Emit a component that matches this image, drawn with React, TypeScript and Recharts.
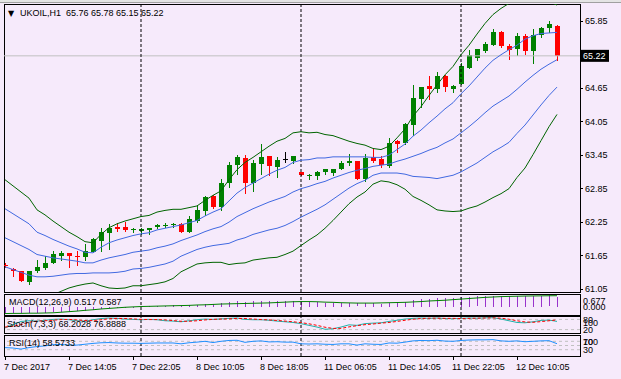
import React from 'react';
import { ComposedChart, Bar, Line, XAxis, YAxis, ReferenceLine } from 'recharts';

// UKOIL H1 candles
const opens = [
  61.48, 61.40, 61.37, 61.16, 61.37, 61.42, 61.50, 61.64, 61.69, 61.64,
  61.62, 61.71, 61.90, 62.04, 62.16, 62.16, 62.10, 62.08, 62.10, 62.15,
  62.18, 62.19, 62.21, 62.07, 62.26, 62.44, 62.71, 62.51, 62.94, 63.27,
  63.39, 62.95, 63.29, 63.43, 63.22, 63.37, 63.34, 63.13, 63.07, 63.07,
  63.14, 63.12, 63.19, 63.30, 63.34, 63.01, 63.41, 63.37, 63.25, 63.69,
  63.66, 63.98, 64.45, 64.68, 64.63, 64.86, 64.63, 64.72, 65.01, 65.19,
  65.30, 65.42, 65.65, 65.39, 65.34, 65.57, 65.31, 65.60, 65.72, 65.76,
];
const highs = [
  61.50, 61.41, 61.37, 61.37, 61.56, 61.64, 61.73, 61.73, 61.69, 61.73,
  61.85, 61.96, 62.14, 62.20, 62.23, 62.24, 62.14, 62.13, 62.14, 62.21,
  62.22, 62.22, 62.22, 62.35, 62.55, 62.71, 62.72, 63.02, 63.31, 63.45,
  63.45, 63.36, 63.64, 63.43, 63.41, 63.50, 63.43, 63.13, 63.10, 63.16,
  63.20, 63.20, 63.34, 63.46, 63.34, 63.46, 63.56, 63.43, 63.75, 63.72,
  64.02, 64.69, 64.67, 64.86, 64.93, 64.87, 64.69, 65.09, 65.33, 65.34,
  65.46, 65.70, 65.66, 65.44, 65.63, 65.62, 65.70, 65.74, 65.85, 65.78,
];
const lows = [
  61.43, 61.28, 61.18, 61.14, 61.35, 61.40, 61.50, 61.56, 61.44, 61.48,
  61.56, 61.71, 61.73, 61.76, 62.08, 62.08, 62.06, 62.03, 62.02, 62.13,
  62.15, 62.15, 62.07, 62.07, 62.25, 62.37, 62.50, 62.46, 62.87, 63.10,
  62.77, 62.80, 63.11, 63.08, 63.05, 63.32, 63.30, 63.08, 63.01, 63.02,
  63.10, 63.09, 63.19, 63.27, 63.01, 62.97, 63.31, 63.23, 63.23, 63.50,
  63.64, 63.81, 64.30, 64.45, 64.57, 64.59, 64.58, 64.72, 65.01, 65.14,
  65.29, 65.42, 65.38, 65.16, 65.24, 65.25, 65.09, 65.55, 65.64, 65.15,
];
const closes = [
  61.45, 61.36, 61.19, 61.37, 61.44, 61.51, 61.67, 61.69, 61.63, 61.61,
  61.73, 61.94, 62.07, 62.14, 62.12, 62.10, 62.11, 62.12, 62.14, 62.19,
  62.19, 62.20, 62.07, 62.30, 62.46, 62.69, 62.51, 62.94, 63.27, 63.41,
  62.95, 63.30, 63.41, 63.24, 63.36, 63.37, 63.43, 63.08, 63.08, 63.13,
  63.19, 63.20, 63.30, 63.34, 63.01, 63.39, 63.34, 63.27, 63.66, 63.64,
  64.00, 64.47, 64.66, 64.63, 64.86, 64.66, 64.68, 65.04, 65.24, 65.34,
  65.44, 65.64, 65.39, 65.32, 65.57, 65.31, 65.60, 65.72, 65.79, 65.22,
];

// Bollinger middle line and one deviation step (blue = ±1, green = ±2)
const bbMid = [
  61.96, 61.89, 61.82, 61.75, 61.66, 61.63, 61.60, 61.58, 61.56, 61.54,
  61.51, 61.51, 61.56, 61.60, 61.63, 61.66, 61.70, 61.72, 61.74, 61.78,
  61.81, 61.85, 61.91, 61.96, 62.01, 62.07, 62.12, 62.16, 62.24, 62.34,
  62.41, 62.48, 62.54, 62.60, 62.65, 62.70, 62.78, 62.84, 62.88, 62.93,
  62.97, 63.03, 63.08, 63.13, 63.17, 63.20, 63.24, 63.26, 63.28, 63.33,
  63.37, 63.42, 63.47, 63.53, 63.58, 63.66, 63.73, 63.84, 63.95, 64.07,
  64.20, 64.32, 64.41, 64.50, 64.62, 64.75, 64.87, 64.98, 65.07, 65.15,
];
const bbDev = [
  0.52, 0.50, 0.48, 0.46, 0.40, 0.37, 0.33, 0.29, 0.25, 0.22,
  0.19, 0.18, 0.23, 0.27, 0.29, 0.30, 0.30, 0.31, 0.31, 0.32,
  0.32, 0.31, 0.28, 0.27, 0.26, 0.28, 0.30, 0.32, 0.38, 0.42,
  0.45, 0.46, 0.48, 0.50, 0.52, 0.52, 0.53, 0.51, 0.48, 0.46,
  0.42, 0.38, 0.33, 0.28, 0.24, 0.21, 0.16, 0.14, 0.16, 0.21,
  0.27, 0.36, 0.42, 0.49, 0.56, 0.61, 0.65, 0.70, 0.73, 0.77,
  0.80, 0.82, 0.83, 0.83, 0.79, 0.77, 0.71, 0.64, 0.56, 0.49,
];

const macdMain = [
  -0.30, -0.31, -0.33, -0.34, -0.33, -0.31, -0.28, -0.26, -0.24, -0.22,
  -0.19, -0.15, -0.10, -0.06, -0.03, 0.00, 0.02, 0.03, 0.04, 0.06,
  0.07, 0.08, 0.07, 0.08, 0.10, 0.14, 0.15, 0.20, 0.26, 0.30,
  0.28, 0.30, 0.33, 0.32, 0.32, 0.32, 0.32, 0.29, 0.27, 0.25,
  0.23, 0.22, 0.22, 0.22, 0.18, 0.19, 0.19, 0.17, 0.22, 0.24,
  0.28, 0.35, 0.40, 0.43, 0.46, 0.47, 0.47, 0.50, 0.53, 0.55,
  0.57, 0.59, 0.59, 0.58, 0.58, 0.57, 0.58, 0.59, 0.60, 0.517,
];
const macdSignal = [
  -0.35, -0.34, -0.34, -0.33, -0.33, -0.32, -0.31, -0.28, -0.25, -0.22,
  -0.18, -0.15, -0.11, -0.08, -0.05, -0.02, 0.00, 0.02, 0.03, 0.04,
  0.05, 0.06, 0.07, 0.08, 0.10, 0.11, 0.13, 0.15, 0.16, 0.17,
  0.18, 0.19, 0.20, 0.21, 0.23, 0.25, 0.27, 0.28, 0.28, 0.27,
  0.25, 0.24, 0.22, 0.21, 0.20, 0.20, 0.20, 0.21, 0.22, 0.23,
  0.24, 0.26, 0.28, 0.31, 0.33, 0.35, 0.38, 0.41, 0.44, 0.47,
  0.50, 0.52, 0.54, 0.55, 0.56, 0.57, 0.575, 0.58, 0.585, 0.587,
];

const stochMain = [
  30, 50, 68, 72, 70, 75, 80, 82, 78, 72,
  70, 78, 85, 88, 86, 82, 80, 78, 80, 78,
  72, 70, 66, 72, 78, 82, 80, 83, 86, 88,
  80, 78, 78, 75, 70, 66, 62, 55, 45, 35,
  22, 25, 35, 48, 45, 55, 58, 60, 68, 75,
  82, 86, 88, 86, 88, 85, 84, 86, 88, 87,
  89, 90, 82, 72, 62, 60, 66, 74, 76, 68.2028,
];
const stochSignal = [
  35, 40, 49, 63, 70, 72, 75, 79, 80, 77,
  73, 73, 78, 84, 86, 85, 83, 80, 79, 79,
  77, 73, 69, 69, 72, 77, 80, 82, 83, 86,
  85, 82, 79, 77, 74, 70, 66, 61, 54, 45,
  34, 27, 27, 36, 43, 49, 53, 58, 62, 68,
  75, 81, 85, 87, 87, 86, 86, 85, 86, 87,
  88, 89, 87, 81, 72, 65, 63, 67, 72, 76.8888,
];

const rsiValues = [
  40, 38, 33, 40, 45, 48, 54, 55, 52, 52,
  56, 60, 63, 64, 62, 61, 61, 60, 61, 62,
  62, 62, 58, 63, 66, 70, 64, 70, 74, 75,
  65, 70, 72, 67, 68, 66, 66, 58, 57, 58,
  56, 55, 58, 58, 52, 58, 56, 55, 62, 61,
  66, 72, 74, 73, 75, 71, 70, 74, 76, 77,
  77, 78, 72, 70, 72, 68, 70, 72, 73, 58.5733,
];

const priceTicks = [61.05, 61.65, 62.25, 62.85, 63.45, 64.05, 64.65, 65.22, 65.85];
const lastPrice = 65.22;
const timeTicks = [0, 8, 16, 24, 32, 40, 48, 56, 64];
const timeLabels = [
  '7 Dec 2017', '7 Dec 14:05', '7 Dec 22:05', '8 Dec 10:05', '8 Dec 18:05',
  '11 Dec 06:05', '11 Dec 14:05', '11 Dec 22:05', '12 Dec 10:05',
];
const separators = [17, 37, 57];

const BG = '#F6EAFB';
const FONT = '"Liberation Sans", Arial, sans-serif';
const BULL = '#008000';
const BEAR = '#FF0000';
const BAND = '#006400';
const BLUE = '#4169E1';
const X_DOMAIN: [number, number] = [-0.125, 71.875];
const W = 621;

const data = opens.map((o, i) => ({
  i,
  o,
  h: highs[i],
  l: lows[i],
  c: closes[i],
  up2: bbMid[i] + 2 * bbDev[i],
  up1: bbMid[i] + bbDev[i],
  mid: bbMid[i],
  dn1: bbMid[i] - bbDev[i],
  dn2: bbMid[i] - 2 * bbDev[i],
  macd: macdMain[i],
  signal: macdSignal[i],
  k: stochMain[i],
  d: stochSignal[i],
  rsi: rsiValues[i],
}));

function Candle(props: any) {
  const { x, y, width, height, payload } = props;
  const top = Math.min(y, y + height);
  const h = Math.abs(height);
  const span = payload.h - payload.l;
  const py = (p: number) => (span > 0 ? top + ((payload.h - p) / span) * h : top);
  const cx = Math.round(x + width / 2);
  const color = payload.c > payload.o ? BULL : payload.c < payload.o ? BEAR : '#000';
  const wTop = Math.round(py(payload.h));
  const wBot = Math.round(py(payload.l));
  const bTop = Math.round(py(Math.max(payload.o, payload.c)));
  const bBot = Math.round(py(Math.min(payload.o, payload.c)));
  return (
    <g shapeRendering="crispEdges">
      <rect x={cx} y={wTop} width={1} height={Math.max(1, wBot - wTop + 1)} fill={color} />
      <rect x={cx - 2} y={bTop} width={5} height={Math.max(1, bBot - bTop)} fill={color} />
    </g>
  );
}

function HistBar(props: any) {
  const { x, y, width, height } = props;
  const top = Math.min(y, y + height);
  const h = Math.abs(height);
  return <rect x={Math.round(x + width / 2)} y={Math.round(top)} width={1} height={Math.max(1, Math.round(h))} fill="#9933CC" shapeRendering="crispEdges" />;
}

const tickText = { fontFamily: FONT, fontSize: 9, fill: '#000' };

function PriceTick(props: any) {
  const { y, payload } = props;
  const v = payload.value;
  if (v === lastPrice) {
    return (
      <g>
        <rect x={581} y={y - 6} width={28} height={12} fill="#000" />
        <text x={583} y={y + 3.5} {...tickText} fill="#fff">{v.toFixed(2)}</text>
      </g>
    );
  }
  return (
    <g>
      <line x1={580} x2={583} y1={Math.round(y) + 0.5} y2={Math.round(y) + 0.5} stroke="#000" />
      <text x={585} y={y + 3.5} {...tickText}>{v.toFixed(2)}</text>
    </g>
  );
}

// sub-window labels: the maximum sits just under the top border
function makePanelTick(topValue: number, fmt: (v: number) => string) {
  return (props: any) => {
    const { y, payload } = props;
    const v = payload.value;
    const dy = v === topValue ? 10 : 3.5;
    return (
      <text x={583} y={y + dy} {...tickText}>{fmt(v)}</text>
    );
  };
}

function TimeTick(props: any) {
  const { x, payload } = props;
  const label = timeLabels[timeTicks.indexOf(payload.value)];
  return (
    <g>
      <rect x={Math.round(x)} y={356} width={1} height={4} fill="#000" />
      <text x={x - 1} y={370} {...tickText}>{label}</text>
    </g>
  );
}

const sepLines = (prefix: string) =>
  separators.map((s) => (
    <ReferenceLine key={prefix + s} x={s} stroke="#000" strokeDasharray="3 2" ifOverflow="visible" />
  ));

const chartStyle: React.CSSProperties = { position: 'absolute', left: 0, top: 0 };

function Box({ top, height }: { top: number; height: number }) {
  return (
    <div
      style={{
        position: 'absolute', left: 4, top, width: 577, height,
        border: '1px solid #000', boxSizing: 'border-box', pointerEvents: 'none',
      }}
    />
  );
}

const label = (x: number, y: number, text: string) => (
  <div style={{ position: 'absolute', left: x, top: y, fontFamily: FONT, fontSize: 9, lineHeight: '11px', color: '#000', whiteSpace: 'pre' }}>
    {text}
  </div>
);

export default function App() {
  return (
    <div style={{ position: 'absolute', left: 0, top: 0, width: W, height: 379, background: BG, overflow: 'hidden' }}>
      <div style={{ position: 'absolute', left: 0, top: 0, width: W, height: 2, background: '#E4E4E4' }} />
      <div style={{ position: 'absolute', left: 0, top: 2, width: W, height: 1, background: '#A0A0A0' }} />
      <Box top={4} height={289} />
      <Box top={294} height={22} />
      <Box top={316} height={18} />
      <Box top={335} height={22} />

      {/* main window: candles + bands */}
      <div style={chartStyle}>
        <ComposedChart width={W} height={293} data={data} margin={{ top: 4, right: 0, bottom: 1, left: 4 }}>
          <XAxis dataKey="i" type="number" domain={X_DOMAIN} allowDataOverflow hide />
          <YAxis
            orientation="right" width={41} domain={[60.988, 66.149]} allowDataOverflow
            ticks={priceTicks} interval={0} axisLine={false} tickLine={false} tick={(p: any) => <PriceTick {...p} />}
          />
          <ReferenceLine y={lastPrice} stroke="#C0C0C0" />
          {sepLines('m')}
          <Line dataKey="up2" stroke={BAND} dot={false} strokeWidth={1} isAnimationActive={false} />
          <Line dataKey="up1" stroke={BLUE} dot={false} strokeWidth={1} isAnimationActive={false} />
          <Line dataKey="mid" stroke={BLUE} dot={false} strokeWidth={1} isAnimationActive={false} />
          <Line dataKey="dn1" stroke={BLUE} dot={false} strokeWidth={1} isAnimationActive={false} />
          <Line dataKey="dn2" stroke={BAND} dot={false} strokeWidth={1} isAnimationActive={false} />
          <Bar dataKey={(d: any) => [d.l, d.h]} barSize={5} shape={(p: any) => <Candle {...p} />} isAnimationActive={false} />
        </ComposedChart>
      </div>

      {/* MACD */}
      <div style={chartStyle}>
        <ComposedChart width={W} height={322} data={data} margin={{ top: 294, right: 0, bottom: 7, left: 4 }}>
          <XAxis dataKey="i" type="number" domain={X_DOMAIN} allowDataOverflow hide />
          <YAxis
            orientation="right" width={41} domain={[-0.425, 0.677]} allowDataOverflow
            ticks={[0.677, 0]} interval={0} axisLine={false} tickLine={false}
            tick={makePanelTick(0.677, (v) => v.toFixed(3))}
          />
          {sepLines('a')}
          <Bar dataKey="macd" barSize={1} shape={(p: any) => <HistBar {...p} />} isAnimationActive={false} />
          <Line dataKey="signal" stroke={BULL} dot={false} strokeWidth={1} isAnimationActive={false} />
        </ComposedChart>
      </div>

      {/* Stochastic */}
      <div style={chartStyle}>
        <ComposedChart width={W} height={340} data={data} margin={{ top: 316, right: 0, bottom: 7, left: 4 }}>
          <XAxis dataKey="i" type="number" domain={X_DOMAIN} allowDataOverflow hide />
          <YAxis
            orientation="right" width={41} domain={[0, 100]} allowDataOverflow
            ticks={[100, 80, 20]} interval={0} axisLine={false} tickLine={false}
            tick={makePanelTick(100, (v) => String(v))}
          />
          <ReferenceLine y={80} stroke="#C0C0C0" strokeDasharray="3 3" />
          <ReferenceLine y={20} stroke="#C0C0C0" strokeDasharray="3 3" />
          {sepLines('s')}
          <Line dataKey="k" stroke="#20B2AA" dot={false} strokeWidth={1} isAnimationActive={false} />
          <Line dataKey="d" stroke="#FF0000" strokeDasharray="3 2" dot={false} strokeWidth={1} isAnimationActive={false} />
        </ComposedChart>
      </div>

      {/* RSI + time axis */}
      <div style={chartStyle}>
        <ComposedChart width={W} height={379} data={data} margin={{ top: 335, right: 0, bottom: 0, left: 4 }}>
          <XAxis
            dataKey="i" type="number" domain={X_DOMAIN} allowDataOverflow height={23}
            ticks={timeTicks} interval={0} axisLine={false} tickLine={false} tick={(p: any) => <TimeTick {...p} />}
          />
          <YAxis
            orientation="right" width={41} domain={[0, 100]} allowDataOverflow
            ticks={[100, 70, 30]} interval={0} axisLine={false} tickLine={false}
            tick={makePanelTick(100, (v) => String(v))}
          />
          <ReferenceLine y={70} stroke="#C0C0C0" strokeDasharray="3 3" />
          <ReferenceLine y={50} stroke="#C0C0C0" strokeDasharray="3 3" />
          <ReferenceLine y={30} stroke="#C0C0C0" strokeDasharray="3 3" />
          {sepLines('r')}
          <Line dataKey="rsi" stroke="#1E90FF" dot={false} strokeWidth={1} isAnimationActive={false} />
        </ComposedChart>
      </div>

      <div style={{ position: 'absolute', left: 8, top: 9, fontFamily: '"DejaVu Sans", sans-serif', fontSize: 8, lineHeight: '10px', color: '#000' }}>▼</div>
      {label(20, 8, 'UKOIL,H1  65.76 65.78 65.15 65.22')}
      {label(9, 297, 'MACD(12,26,9) 0.517 0.587')}
      {label(7, 319, 'Stoch(7,3,3) 68.2028 76.8888')}
      {label(9, 338, 'RSI(14) 58.5733')}
    </div>
  );
}
